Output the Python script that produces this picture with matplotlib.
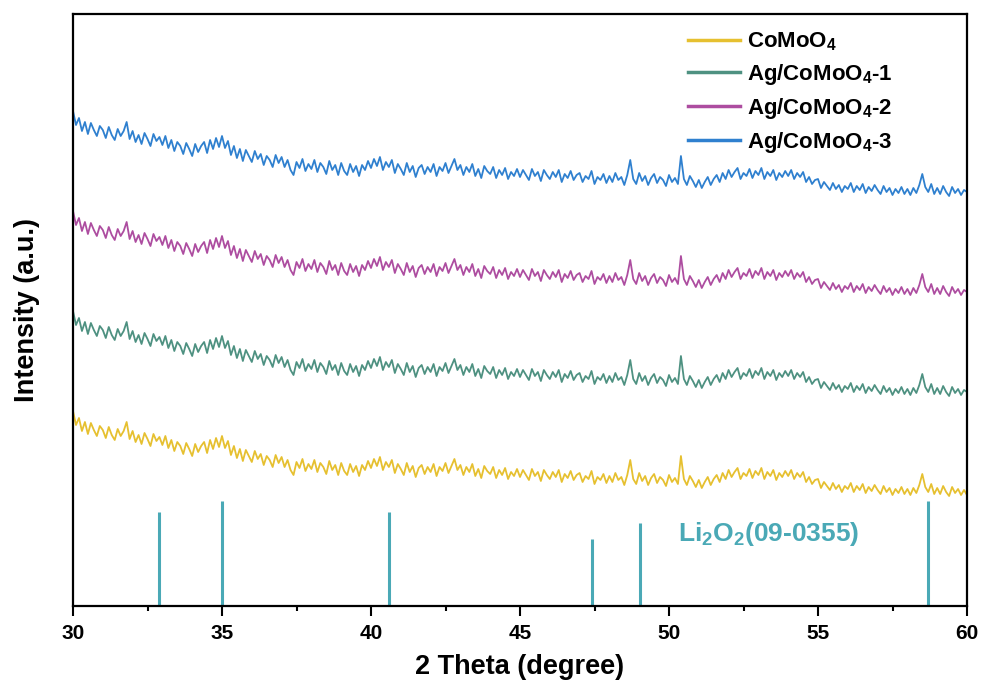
import numpy as np
import matplotlib
matplotlib.use("Agg")
import matplotlib.pyplot as plt
from matplotlib.ticker import MultipleLocator

plt.rcParams['font.family'] = ['Liberation Sans', 'DejaVu Sans']
plt.rcParams['font.weight'] = 'bold'
plt.rcParams['mathtext.fontset'] = 'custom'
plt.rcParams['mathtext.rm'] = 'Liberation Sans:bold'
plt.rcParams['mathtext.bf'] = 'Liberation Sans:bold'
plt.rcParams['mathtext.it'] = 'Liberation Sans:bold'
plt.rcParams['mathtext.default'] = 'bf'

# 2-theta grid, 0.1 degree step from 30 to 60
two_theta = np.round(np.arange(30.0, 60.0001, 0.1), 1)

# XRD intensities (a.u.), one list per sample
comoo4 = [
    195, 181, 188, 175, 184, 172, 183, 176, 170, 180,
    176, 168, 179, 171, 166, 177, 170, 175, 184, 167,
    175, 164, 171, 162, 173, 167, 160, 172, 165, 169,
    161, 170, 158, 166, 155, 164, 160, 152, 163, 157,
    150, 162, 154, 160, 164, 153, 166, 157, 168, 159,
    170, 158, 165, 151, 160, 148, 157, 145, 156, 150,
    144, 155, 147, 152, 141, 150, 146, 139, 151, 143,
    149, 139, 146, 136, 131, 144, 138, 147, 135, 142,
    137, 146, 134, 143, 139, 132, 145, 136, 141, 131,
    143, 135, 131, 142, 134, 140, 130, 141, 136, 145,
    138, 147, 140, 149, 136, 144, 139, 146, 133, 142,
    137, 131, 143, 134, 140, 129, 138, 141, 132, 139,
    134, 142, 130, 139, 135, 143, 133, 140, 147, 136,
    141, 131, 139, 134, 142, 130, 137, 128, 140, 135,
    132, 139, 128, 136, 131, 138, 127, 134, 130, 137,
    129, 136, 131, 126, 137, 130, 134, 125, 136, 131,
    127, 134, 129, 136, 124, 132, 128, 135, 126, 131,
    133, 124, 130, 127, 135, 122, 129, 126, 132, 123,
    130, 124, 133, 126, 129, 121, 131, 146, 127, 122,
    133, 125, 130, 121, 128, 132, 123, 129, 126, 120,
    131, 124, 128, 122, 150, 127, 121, 130, 125, 119,
    126, 118, 124, 129, 121, 127, 131, 124, 133, 127,
    136, 129, 134, 138, 127, 133, 130, 137, 128, 135,
    131, 138, 127, 134, 130, 136, 126, 133, 129, 135,
    130, 136, 127, 133, 129, 134, 124, 129, 122, 126,
    127, 118, 124, 120, 116, 123, 117, 121, 114, 120,
    117, 123, 114, 120, 116, 122, 113, 119, 115, 121,
    116, 112, 120, 114, 118, 111, 117, 113, 119, 112,
    117, 111, 118, 113, 121, 132, 119, 114, 122, 112,
    118, 112, 120, 114, 110, 119, 113, 117, 111, 116,
    111,
]
ag_comoo4_1 = [
    195, 181, 188, 175, 184, 172, 183, 176, 170, 180,
    176, 168, 179, 171, 166, 177, 170, 175, 184, 167,
    175, 164, 171, 162, 173, 167, 160, 172, 165, 169,
    161, 170, 158, 166, 155, 164, 160, 152, 163, 157,
    150, 162, 154, 160, 164, 153, 166, 157, 168, 159,
    170, 158, 165, 151, 160, 148, 157, 145, 156, 150,
    144, 155, 147, 152, 141, 150, 146, 139, 151, 143,
    149, 139, 146, 136, 131, 144, 138, 147, 135, 142,
    137, 146, 134, 143, 139, 132, 145, 136, 141, 131,
    143, 135, 131, 142, 134, 140, 130, 141, 136, 145,
    138, 147, 140, 149, 136, 144, 139, 146, 133, 142,
    137, 131, 143, 134, 140, 129, 138, 141, 132, 139,
    134, 142, 130, 139, 135, 143, 133, 140, 147, 136,
    141, 131, 139, 134, 142, 130, 137, 128, 140, 135,
    132, 139, 128, 136, 131, 138, 127, 134, 130, 137,
    129, 136, 131, 126, 137, 130, 134, 125, 136, 131,
    127, 134, 129, 136, 124, 132, 128, 135, 126, 131,
    133, 124, 130, 127, 135, 122, 129, 126, 132, 123,
    130, 124, 133, 126, 129, 121, 131, 146, 127, 122,
    133, 125, 130, 121, 128, 132, 123, 129, 126, 120,
    131, 124, 128, 122, 150, 127, 121, 130, 125, 119,
    126, 118, 124, 129, 121, 127, 131, 124, 133, 127,
    136, 129, 134, 138, 127, 133, 130, 137, 128, 135,
    131, 138, 127, 134, 130, 136, 126, 133, 129, 135,
    130, 136, 127, 133, 129, 134, 124, 129, 122, 126,
    127, 118, 124, 120, 116, 123, 117, 121, 114, 120,
    117, 123, 114, 120, 116, 122, 113, 119, 115, 121,
    116, 112, 120, 114, 118, 111, 117, 113, 119, 112,
    117, 111, 118, 113, 121, 132, 119, 114, 122, 112,
    118, 112, 120, 114, 110, 119, 113, 117, 111, 116,
    114,
]
ag_comoo4_2 = [
    195, 181, 188, 175, 184, 172, 183, 176, 170, 180,
    176, 168, 179, 171, 166, 177, 170, 175, 184, 167,
    175, 164, 171, 162, 173, 167, 160, 172, 165, 169,
    161, 170, 158, 166, 155, 164, 160, 152, 163, 157,
    150, 162, 154, 160, 164, 153, 166, 157, 168, 159,
    170, 158, 165, 151, 160, 148, 157, 145, 156, 150,
    144, 155, 147, 152, 141, 150, 146, 139, 151, 143,
    149, 139, 146, 136, 131, 144, 138, 147, 135, 142,
    137, 146, 134, 143, 139, 132, 145, 136, 141, 131,
    143, 135, 131, 142, 134, 140, 130, 141, 136, 145,
    138, 147, 140, 149, 136, 144, 139, 146, 133, 142,
    137, 131, 143, 134, 140, 129, 138, 141, 132, 139,
    134, 142, 130, 139, 135, 143, 133, 140, 147, 136,
    141, 131, 139, 134, 142, 130, 137, 128, 140, 135,
    132, 139, 128, 136, 131, 138, 127, 134, 130, 137,
    129, 136, 131, 126, 137, 130, 134, 125, 136, 131,
    127, 134, 129, 136, 124, 132, 128, 135, 126, 131,
    133, 124, 130, 127, 135, 122, 129, 126, 132, 123,
    130, 124, 133, 126, 129, 121, 131, 146, 127, 122,
    133, 125, 130, 121, 128, 132, 123, 129, 126, 120,
    131, 124, 128, 122, 150, 127, 121, 130, 125, 119,
    126, 118, 124, 129, 121, 127, 131, 124, 133, 127,
    136, 129, 134, 138, 127, 133, 130, 137, 128, 135,
    131, 138, 127, 134, 130, 136, 126, 133, 129, 135,
    130, 136, 127, 133, 129, 134, 124, 129, 122, 126,
    127, 118, 124, 120, 116, 123, 117, 121, 114, 120,
    117, 123, 114, 120, 116, 122, 113, 119, 115, 121,
    116, 112, 120, 114, 118, 111, 117, 113, 119, 112,
    117, 111, 118, 113, 121, 132, 119, 114, 122, 112,
    118, 112, 120, 114, 110, 119, 113, 117, 111, 116,
    114,
]
ag_comoo4_3 = [
    195, 181, 188, 175, 184, 172, 183, 176, 170, 180,
    176, 168, 179, 171, 166, 177, 170, 175, 184, 167,
    175, 164, 171, 162, 173, 167, 160, 172, 165, 169,
    161, 170, 158, 166, 155, 164, 160, 152, 163, 157,
    150, 162, 154, 160, 164, 153, 166, 157, 168, 159,
    170, 158, 165, 151, 160, 148, 157, 145, 156, 150,
    144, 155, 147, 152, 141, 150, 146, 139, 151, 143,
    149, 139, 146, 136, 131, 144, 138, 147, 135, 142,
    137, 146, 134, 143, 139, 132, 145, 136, 141, 131,
    143, 135, 131, 142, 134, 140, 130, 141, 136, 145,
    138, 147, 140, 149, 136, 144, 139, 146, 133, 142,
    137, 131, 143, 134, 140, 129, 138, 141, 132, 139,
    134, 142, 130, 139, 135, 143, 133, 140, 147, 136,
    141, 131, 139, 134, 142, 130, 137, 128, 140, 135,
    132, 139, 128, 136, 131, 138, 127, 134, 130, 137,
    129, 136, 131, 126, 137, 130, 134, 125, 136, 131,
    127, 134, 129, 136, 124, 132, 128, 135, 126, 131,
    133, 124, 130, 127, 135, 122, 129, 126, 132, 123,
    130, 124, 133, 126, 129, 121, 131, 146, 127, 122,
    133, 125, 130, 121, 128, 132, 123, 129, 126, 120,
    131, 124, 128, 122, 150, 127, 121, 130, 125, 119,
    126, 118, 124, 129, 121, 127, 131, 124, 133, 127,
    136, 129, 134, 138, 127, 133, 130, 137, 128, 135,
    131, 138, 127, 134, 130, 136, 126, 133, 129, 135,
    130, 136, 127, 133, 129, 134, 124, 129, 122, 126,
    127, 118, 124, 120, 116, 123, 117, 121, 114, 120,
    117, 123, 114, 120, 116, 122, 113, 119, 115, 121,
    116, 112, 120, 114, 118, 111, 117, 113, 119, 112,
    117, 111, 118, 113, 121, 132, 119, 114, 122, 112,
    118, 112, 120, 114, 110, 119, 113, 117, 111, 116,
    114,
]

series_labels = ['CoMoO$_4$', 'Ag/CoMoO$_4$-1', 'Ag/CoMoO$_4$-2', 'Ag/CoMoO$_4$-3']
series_colors = ['#E6C030', '#4E9181', '#AD4DA0', '#2F80CF']

# Li2O2 reference pattern (PDF 09-0355)
ref_positions = [32.88, 35.00, 40.59, 47.42, 49.02, 58.70]
ref_heights = [94, 105, 94, 67, 83, 105]
ref_label = 'Li$_2$O$_2$(09-0355)'
ref_color = '#4AA9B6'

x_ticks = [30, 35, 40, 45, 50, 55, 60]

fig = plt.figure(figsize=(9.83, 6.93), dpi=100)
ax = fig.add_axes([73 / 983, 1 - 606 / 693, 894 / 983, 592 / 693])

# vertical stacking of the patterns
stack_offset = 100
all_series = [comoo4, ag_comoo4_1, ag_comoo4_2, ag_comoo4_3]
for i, (vals, lab, col) in enumerate(zip(all_series, series_labels, series_colors)):
    ax.plot(two_theta, np.asarray(vals) + i * stack_offset, color=col, lw=1.3, label=lab)

ax.vlines(ref_positions, 0, ref_heights, color=ref_color, lw=2.2)
ax.text(50.3, 72, ref_label, color=ref_color, fontsize=19, fontweight='bold',
        ha='left', va='center')

ax.set_xlim(30, 60)
ax.set_ylim(0, 592)
ax.set_xticks(x_ticks)
ax.xaxis.set_minor_locator(MultipleLocator(2.5))
ax.tick_params(axis='x', which='major', direction='out', length=7, width=1.5,
               labelsize=15, pad=6)
ax.tick_params(axis='x', which='minor', direction='out', length=3.5, width=1.5)
ax.tick_params(axis='y', left=False, labelleft=False)
for sp in ax.spines.values():
    sp.set_linewidth(1.6)

ax.set_xlabel('2 Theta (degree)', fontsize=19.5, fontweight='bold', labelpad=8)
ax.set_ylabel('Intensity (a.u.)', fontsize=19.5, fontweight='bold', labelpad=24)

leg = ax.legend(loc='upper left', bbox_to_anchor=(0.688, 0.972), frameon=False,
                fontsize=16, handlelength=2.35, handletextpad=0.28,
                labelspacing=0.4, borderpad=0, borderaxespad=0)
for h in leg.legend_handles:
    h.set_linewidth(2.5)

fig.savefig('out.png', dpi=100)
